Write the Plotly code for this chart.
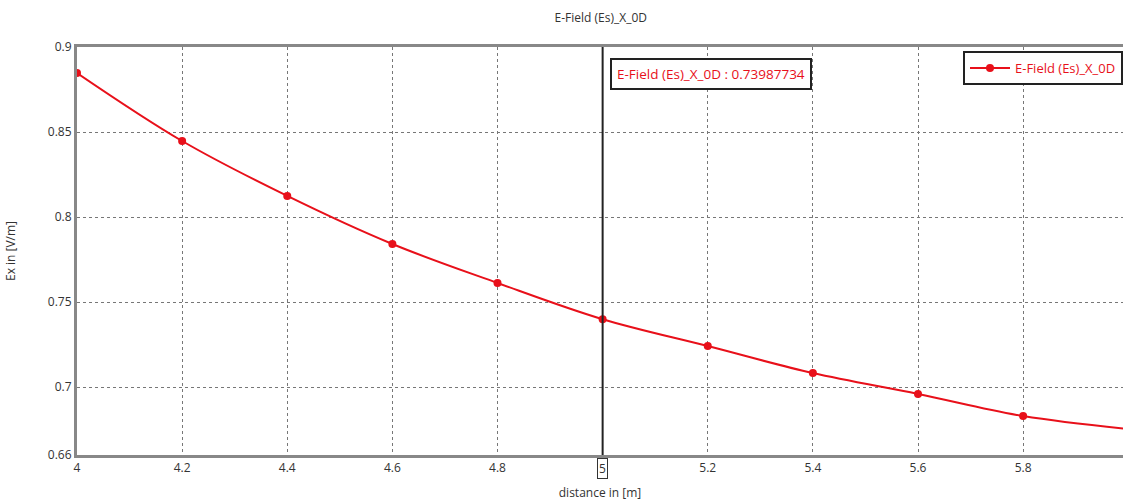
import plotly.graph_objects as go

distance = [4.0, 4.2, 4.4, 4.6, 4.8, 5.0, 5.2, 5.4, 5.6, 5.8, 6.0]
ex_field = [0.8847, 0.8447, 0.8124, 0.7841, 0.7612, 0.73987734, 0.7241, 0.7082, 0.6959, 0.6829, 0.6753]
x_ticks = [4.0, 4.2, 4.4, 4.6, 4.8, 5.2, 5.4, 5.6, 5.8]
x_tick_text = ["4", "4.2", "4.4", "4.6", "4.8", "5.2", "5.4", "5.6", "5.8"]
y_ticks = [0.66, 0.7, 0.75, 0.8, 0.85, 0.9]
y_tick_text = ["0.66", "0.7", "0.75", "0.8", "0.85", "0.9"]
series_name = "E-Field (Es)_X_0D"
cursor_x = 5.0
cursor_value = 0.73987734

font = "Open Sans"

fig = go.Figure()
fig.add_trace(go.Scatter(
    x=distance, y=ex_field, mode="lines+markers", name=series_name,
    line=dict(color="#e8101a", width=2, shape="spline"),
    marker=dict(color="#e8101a", size=8, symbol="circle"),
))

fig.add_shape(type="line", x0=cursor_x, x1=cursor_x, xref="x", yref="paper", y0=0, y1=1,
              line=dict(color="#222222", width=2))

fig.add_annotation(x=cursor_x, xref="x", y=0.972, yref="paper", xanchor="left", yanchor="top",
                   xshift=7, text=f"{series_name} : {cursor_value:.8f}", showarrow=False,
                   font=dict(family=font, size=13.5, color="#e8101a"),
                   bordercolor="#222222", borderwidth=2, bgcolor="white", borderpad=5)

fig.add_annotation(x=cursor_x, xref="x", y=0, yref="paper", yanchor="top", yshift=-3,
                   text="5", showarrow=False, font=dict(family=font, size=12, color="#333333"),
                   bordercolor="#333333", borderwidth=1, borderpad=1, bgcolor="white")

fig.update_layout(
    width=1123, height=501,
    margin=dict(l=77, r=0, t=47, b=46, autoexpand=False),
    paper_bgcolor="white", plot_bgcolor="white",
    title=dict(text=series_name, x=0.535, xanchor="center", y=0.965, yanchor="middle",
               font=dict(family=font, size=12, color="#333333")),
    font=dict(family=font, size=12, color="#333333"),
    showlegend=True,
    legend=dict(x=1.0, xanchor="right", y=0.99, yanchor="top", bgcolor="white",
                bordercolor="#222222", borderwidth=2, itemwidth=40,
                font=dict(family=font, size=13, color="#e8101a")),
    xaxis=dict(range=[4, 5.99], tickvals=x_ticks, ticktext=x_tick_text,
               showgrid=True, gridcolor="#777777", griddash="dot", gridwidth=1,
               showline=True, linecolor="#888888", linewidth=3, mirror=True,
               zeroline=False, ticks="", automargin=False,
               title=dict(text="distance in [m]", standoff=14,
                          font=dict(family=font, size=12, color="#333333"))),
    yaxis=dict(range=[0.66, 0.9], tickvals=y_ticks, ticktext=y_tick_text,
               showgrid=True, gridcolor="#777777", griddash="dot", gridwidth=1,
               showline=True, linecolor="#888888", linewidth=3, mirror=True,
               zeroline=False, ticks="", automargin=False,
               title=dict(text="Ex in [V/m]", standoff=30,
                          font=dict(family=font, size=12, color="#333333"))),
)

fig.write_html("out.html", config={"displayModeBar": False},
               post_script="document.body.style.margin='0px';document.body.style.overflow='hidden';")
